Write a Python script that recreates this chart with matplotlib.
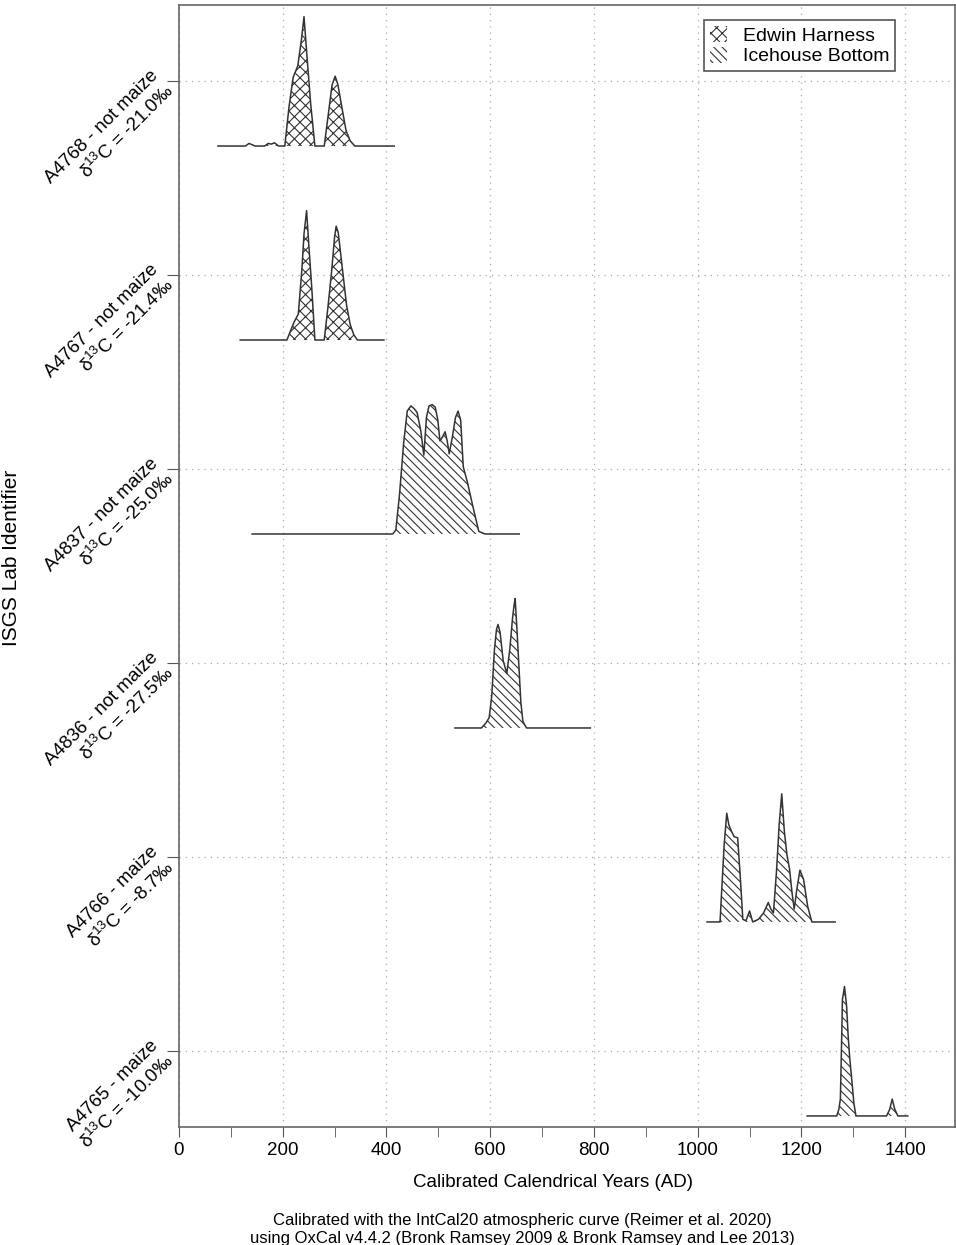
import numpy as np
import matplotlib
matplotlib.use("Agg")
import matplotlib.pyplot as plt
from matplotlib.patches import Patch

plt.rcParams['font.family'] = ['Liberation Sans', 'DejaVu Sans']
plt.rcParams['mathtext.default'] = 'regular'
plt.rcParams['hatch.linewidth'] = 0.8

# samples, top to bottom
lab_ids = ['A4768', 'A4767', 'A4837', 'A4836', 'A4766', 'A4765']
material = ['not maize', 'not maize', 'not maize', 'not maize', 'maize', 'maize']
d13c = ['-21.0', '-21.4', '-25.0', '-27.5', '-8.7', '-10.0']
sites = ['Edwin Harness', 'Edwin Harness', 'Icehouse Bottom', 'Icehouse Bottom',
         'Icehouse Bottom', 'Icehouse Bottom']

# calibrated probability curves (relative to each maximum)
yr_4768 = [75, 128, 135, 141, 147, 165, 172, 178, 184, 192, 204, 212, 220, 229, 236, 241,
           247, 254, 262, 280, 288, 295, 301, 306, 314, 322, 330, 339, 415]
p_4768 = [0, 0, 0.02, 0.01, 0, 0, 0.02, 0.015, 0.025, 0, 0, 0.3, 0.53, 0.62, 0.82, 1.0,
          0.68, 0.32, 0, 0, 0.25, 0.47, 0.54, 0.48, 0.3, 0.12, 0.04, 0, 0]

yr_4767 = [118, 208, 214, 222, 230, 237, 241, 246, 250, 256, 262, 280, 287, 294, 300, 303,
           307, 315, 323, 330, 337, 344, 395]
p_4767 = [0, 0, 0.06, 0.14, 0.2, 0.55, 0.82, 1.0, 0.75, 0.4, 0, 0, 0.25, 0.52, 0.8, 0.88,
          0.83, 0.55, 0.27, 0.12, 0.04, 0, 0]

yr_4837 = [141, 412, 418, 425, 433, 440, 447, 453, 459, 466, 472, 477, 482, 488, 494, 499,
           503, 508, 513, 517, 521, 527, 533, 538, 543, 548, 556, 565, 572, 578, 590, 656]
p_4837 = [0, 0, 0.03, 0.3, 0.7, 0.95, 0.99, 0.97, 0.94, 0.8, 0.61, 0.9, 0.99, 1.0, 0.98, 0.88,
          0.72, 0.75, 0.79, 0.72, 0.62, 0.75, 0.9, 0.95, 0.88, 0.52, 0.4, 0.24, 0.12, 0.02, 0, 0]

yr_4836 = [532, 583, 592, 598, 603, 608, 612, 615, 619, 625, 632, 638, 643, 646, 648, 651,
           655, 659, 663, 670, 793]
p_4836 = [0, 0, 0.04, 0.08, 0.25, 0.6, 0.76, 0.8, 0.74, 0.52, 0.42, 0.62, 0.85, 0.95, 1.0, 0.8,
          0.5, 0.2, 0.05, 0, 0]

yr_4766 = [1018, 1043, 1047, 1051, 1056, 1060, 1064, 1070, 1077, 1082, 1087, 1093, 1100, 1106,
           1117, 1127, 1136, 1141, 1146, 1152, 1157, 1162, 1167, 1172, 1177, 1182, 1186, 1191,
           1197, 1204, 1212, 1220, 1265]
p_4766 = [0, 0, 0.3, 0.6, 0.84, 0.75, 0.71, 0.66, 0.65, 0.35, 0.02, 0.01, 0.085, 0, 0.02,
          0.07, 0.15, 0.1, 0.07, 0.4, 0.75, 0.99, 0.7, 0.52, 0.41, 0.22, 0.1, 0.25, 0.4, 0.33,
          0.12, 0, 0]

yr_4765 = [1211, 1268, 1272, 1275, 1277, 1279, 1283, 1287, 1290, 1293, 1297, 1301, 1305, 1364,
           1370, 1375, 1380, 1386, 1405]
p_4765 = [0, 0, 0.05, 0.13, 0.5, 0.9, 1.0, 0.85, 0.62, 0.45, 0.28, 0.1, 0, 0, 0.05, 0.13, 0.05,
          0, 0]

curves = [(yr_4768, p_4768), (yr_4767, p_4767), (yr_4837, p_4837),
          (yr_4836, p_4836), (yr_4766, p_4766), (yr_4765, p_4765)]

hatches = {'Edwin Harness': 'xxx', 'Icehouse Bottom': '\\\\\\\\'}
ink = '#333333'
peak_h = 0.667     # height of a curve maximum, in row units
tick_off = 0.335   # label tick sits above the baseline

fig = plt.figure(figsize=(9.56, 12.45), dpi=100)
ax = fig.add_axes([179 / 956, 118 / 1245, 776 / 956, 1122 / 1245])

n = len(lab_ids)
for i, (yr, p) in enumerate(curves):
    base = n - 1 - i
    yr = np.asarray(yr, float)
    top = base + peak_h * np.asarray(p, float)
    ax.fill_between(yr, base, top, facecolor='white', edgecolor=ink,
                    hatch=hatches[sites[i]], linewidth=0, zorder=3)
    ax.plot(yr, top, color=ink, lw=1.1, zorder=4)

ax.set_xlim(0, 1496)
ax.set_ylim(-0.057, n - 1 + 0.727)

ax.set_xticks(np.arange(0, 1401, 200))
ax.set_xticks(np.arange(100, 1400, 200), minor=True)
ax.tick_params(axis='x', which='both', direction='out', length=7, color='#555555',
               labelsize=13.5, pad=4)

yt = [n - 1 - i + tick_off for i in range(n)]
ax.set_yticks(yt)
labels = [f'{lab_ids[i]} - {material[i]}\nδ$^{{13}}$C = {d13c[i]}‰' for i in range(n)]
ax.set_yticklabels(labels, rotation=45, ha='right', va='center', rotation_mode='anchor',
                   multialignment='right', fontsize=13.5)
ax.tick_params(axis='y', direction='out', length=9, color='#555555', pad=2)

ax.grid(True, which='major', color='#aaaaaa', linestyle=(0, (1, 4)), linewidth=0.9)
ax.set_axisbelow(True)
for s in ax.spines.values():
    s.set_color('#666666')
    s.set_linewidth(1.2)

ax.set_xlabel('Calibrated Calendrical Years (AD)', fontsize=13.5)
ax.xaxis.set_label_coords((553 - 179) / 776, -(1174 - 1127) / 1122)
fig.text(12 / 956, 1 - 558 / 1245, 'ISGS Lab Identifier', rotation=90, ha='center',
         va='center', fontsize=15)
fig.text(522 / 956, 1 - 1220 / 1245,
         'Calibrated with the IntCal20 atmospheric curve (Reimer et al. 2020)',
         ha='center', va='center', fontsize=12)
fig.text(522 / 956, 1 - 1238 / 1245,
         'using OxCal v4.4.2 (Bronk Ramsey 2009 & Bronk Ramsey and Lee 2013)',
         ha='center', va='center', fontsize=12)

handles = [Patch(facecolor='white', edgecolor=ink, hatch=hatches['Edwin Harness'],
                 linewidth=0, label='Edwin Harness'),
           Patch(facecolor='white', edgecolor=ink, hatch=hatches['Icehouse Bottom'],
                 linewidth=0, label='Icehouse Bottom')]
leg = ax.legend(handles=handles, loc='upper right', bbox_to_anchor=(0.923, 0.9866),
                fontsize=14, fancybox=False, framealpha=1, edgecolor='#555555',
                handlelength=0.9, handleheight=0.9, handletextpad=0.8,
                labelspacing=0.1, borderpad=0.3, borderaxespad=0)
leg.get_frame().set_linewidth(1.2)

fig.savefig('out.png', dpi=100)
